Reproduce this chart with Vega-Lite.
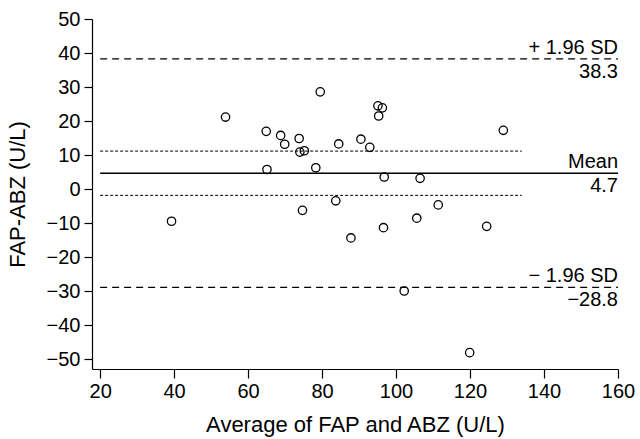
{
  "$schema": "https://vega.github.io/schema/vega-lite/v6.json",
  "width": 526,
  "height": 350,
  "autosize": {"type": "none"},
  "padding": {"left": 92, "top": 19, "right": 22, "bottom": 70},
  "background": "white",
  "config": {
    "view": {"stroke": null},
    "font": "Liberation Sans",
    "axis": {
      "grid": false,
      "domainColor": "black",
      "domainWidth": 1.2,
      "tickColor": "black",
      "tickWidth": 1.2,
      "tickSize": 8,
      "labelColor": "black",
      "labelFont": "Liberation Sans",
      "labelFontSize": 20,
      "labelOverlap": false,
      "labelFlush": false,
      "titleColor": "black",
      "titleFont": "Liberation Sans",
      "titleFontSize": 22,
      "titleFontWeight": "normal"
    }
  },
  "data": {
    "values": [
      {"kind": "pt", "x": 39.3, "y": -9.4},
      {"kind": "pt", "x": 53.9, "y": 21.2},
      {"kind": "pt", "x": 64.9, "y": 17.0},
      {"kind": "pt", "x": 65.1, "y": 5.8},
      {"kind": "pt", "x": 68.8, "y": 15.8},
      {"kind": "pt", "x": 69.9, "y": 13.2},
      {"kind": "pt", "x": 73.8, "y": 14.9},
      {"kind": "pt", "x": 74.0, "y": 10.9},
      {"kind": "pt", "x": 75.2, "y": 11.3},
      {"kind": "pt", "x": 74.7, "y": -6.2},
      {"kind": "pt", "x": 78.3, "y": 6.3},
      {"kind": "pt", "x": 79.5, "y": 28.6},
      {"kind": "pt", "x": 83.7, "y": -3.4},
      {"kind": "pt", "x": 84.5, "y": 13.3},
      {"kind": "pt", "x": 95.1, "y": 24.5},
      {"kind": "pt", "x": 96.3, "y": 23.9},
      {"kind": "pt", "x": 95.3, "y": 21.5},
      {"kind": "pt", "x": 90.5, "y": 14.7},
      {"kind": "pt", "x": 92.9, "y": 12.3},
      {"kind": "pt", "x": 87.8, "y": -14.3},
      {"kind": "pt", "x": 96.8, "y": 3.6},
      {"kind": "pt", "x": 96.6, "y": -11.3},
      {"kind": "pt", "x": 106.5, "y": 3.2},
      {"kind": "pt", "x": 105.6, "y": -8.5},
      {"kind": "pt", "x": 111.4, "y": -4.6},
      {"kind": "pt", "x": 124.5, "y": -10.9},
      {"kind": "pt", "x": 129.0, "y": 17.3},
      {"kind": "pt", "x": 102.2, "y": -29.9},
      {"kind": "pt", "x": 119.9, "y": -48.0},
      {"kind": "loa", "x": 20, "x2": 160, "y": 38.3},
      {"kind": "loa", "x": 20, "x2": 160, "y": -28.8},
      {"kind": "mean", "x": 20, "x2": 160, "y": 4.7},
      {"kind": "ci", "x": 20, "x2": 134, "y": 11.2},
      {"kind": "ci", "x": 20, "x2": 134, "y": -1.8},
      {"kind": "lab", "x": 160, "y": 38.3, "top": "+ 1.96 SD", "bot": "38.3"},
      {"kind": "lab", "x": 160, "y": 4.7, "top": "Mean", "bot": "4.7"},
      {"kind": "lab", "x": 160, "y": -28.8, "top": "− 1.96 SD", "bot": "−28.8"}
    ]
  },
  "encoding": {
    "x": {"field": "x", "type": "quantitative",
      "scale": {"domain": [17.8, 160], "nice": false, "zero": false},
      "axis": {"values": [20, 40, 60, 80, 100, 120, 140, 160], "title": "Average of FAP and ABZ (U/L)", "tickSize": 9, "labelPadding": 3, "titlePadding": 13, "labelOverlap": false}},
    "y": {"field": "y", "type": "quantitative",
      "scale": {"domain": [-52.8, 50], "nice": false, "zero": false},
      "axis": {"values": [-50, -40, -30, -20, -10, 0, 10, 20, 30, 40, 50], "title": "FAP-ABZ (U/L)", "labelPadding": 4, "titlePadding": 17, "labelOverlap": false}}
  },
  "layer": [
    {
      "transform": [{"filter": "datum.kind === 'loa'"}],
      "mark": {"type": "rule", "color": "black", "strokeWidth": 1.2, "strokeDash": [7, 5]},
      "encoding": {"x2": {"field": "x2"}}
    },
    {
      "transform": [{"filter": "datum.kind === 'mean'"}],
      "mark": {"type": "rule", "color": "black", "strokeWidth": 1.4},
      "encoding": {"x2": {"field": "x2"}}
    },
    {
      "transform": [{"filter": "datum.kind === 'ci'"}],
      "mark": {"type": "rule", "color": "black", "strokeWidth": 1, "strokeDash": [3, 2]},
      "encoding": {"x2": {"field": "x2"}}
    },
    {
      "transform": [{"filter": "datum.kind === 'pt'"}],
      "mark": {"type": "point", "shape": "circle", "filled": false, "color": "black", "strokeWidth": 1.3, "size": 70, "opacity": 1},
      "encoding": {}
    },
    {
      "transform": [{"filter": "datum.kind === 'lab'"}],
      "mark": {"type": "text", "align": "right", "baseline": "bottom", "dy": -1, "fontSize": 20, "color": "black", "font": "Liberation Sans"},
      "encoding": {"text": {"field": "top"}}
    },
    {
      "transform": [{"filter": "datum.kind === 'lab'"}],
      "mark": {"type": "text", "align": "right", "baseline": "top", "dy": 3, "fontSize": 20, "color": "black", "font": "Liberation Sans"},
      "encoding": {"text": {"field": "bot"}}
    }
  ]
}
